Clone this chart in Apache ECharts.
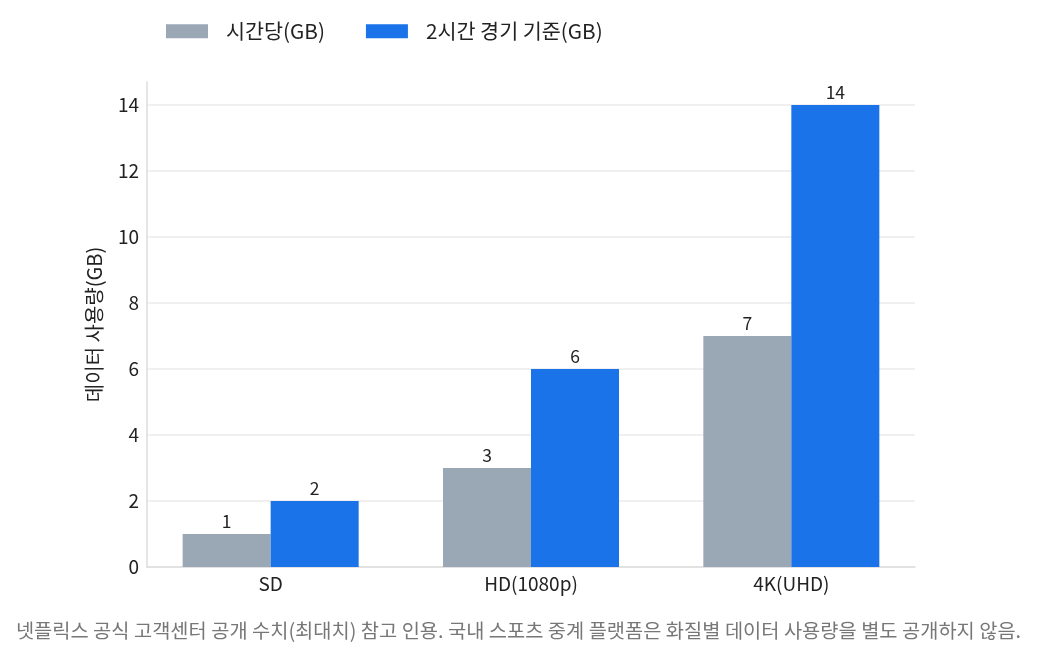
<!DOCTYPE html>
<html>
<head>
<meta charset="utf-8">
<script src="https://cdn.jsdelivr.net/npm/echarts@6/dist/echarts.min.js"></script>
<style>
  html, body { margin: 0; padding: 0; background: #fff; }
  #chart { width: 1037px; height: 661px; }
</style>
</head>
<body>
<div id="chart"></div>
<script>
// 화질별 데이터 사용량
var categories = ["SD", "HD(1080p)", "4K(UHD)"];
var perHour = [1, 3, 7];
var perMatch = [2, 6, 14];
var seriesNames = ["시간당(GB)", "2시간 경기 기준(GB)"];
var yTicks = [0, 2, 4, 6, 8, 10, 12, 14];
var note = "넷플릭스 공식 고객센터 공개 수치(최대치) 참고 인용. 국내 스포츠 중계 플랫폼은 화질별 데이터 사용량을 별도 공개하지 않음.";

var FONT = '"Noto Sans CJK KR", "Noto Sans", sans-serif';

function pairs(arr) {
	return arr.map(function (v, i) { return [i, v]; });
}

function barLabel() {
	return { show: true, position: "top", fontSize: 17.5, color: "#222", distance: 4, fontFamily: FONT,
		formatter: function (p) { return p.value[1]; } };
}

var myChart = echarts.init(document.getElementById("chart"));

var option = {
	animation: false,
	textStyle: { fontFamily: FONT },
	legend: {
		top: 21,
		left: 166,
		padding: 0,
		itemWidth: 42,
		itemHeight: 14,
		itemGap: 41,
		icon: "rect",
		textStyle: { fontSize: 20.7, color: "#222", fontFamily: FONT, padding: [0, 0, 0, 13] },
		data: seriesNames
	},
	grid: { left: 147, right: 122, top: 82, bottom: 94, containLabel: false },
	xAxis: {
		type: "value",
		min: -0.475,
		max: 2.475,
		axisLine: { show: true, onZero: false, lineStyle: { color: "#dddddd", width: 1.5 } },
		axisTick: { show: false, customValues: [0, 1, 2] },
		splitLine: { show: false },
		axisLabel: {
			customValues: [0, 1, 2],
			formatter: function (v) { return categories[Math.round(v)]; },
			fontSize: 19,
			color: "#222",
			margin: 7,
			fontFamily: FONT
		}
	},
	yAxis: {
		type: "value",
		min: 0,
		max: 14.7,
		interval: 2,
		name: "데이터 사용량(GB)",
		nameLocation: "middle",
		nameGap: 43,
		nameTextStyle: { fontSize: 20, color: "#222", fontFamily: FONT },
		axisLine: { show: true, onZero: false, lineStyle: { color: "#dddddd", width: 1.5 } },
		axisTick: { show: false, customValues: yTicks },
		splitLine: { show: true, lineStyle: { color: "#ebebeb", width: 1.5 } },
		axisLabel: {
			customValues: yTicks,
			fontSize: 19,
			color: "#222",
			margin: 8,
			fontFamily: FONT
		}
	},
	series: [
		{
			name: seriesNames[0],
			type: "bar",
			data: pairs(perHour),
			barWidth: 88,
			barGap: "0%",
			itemStyle: { color: "#9aa7b4" },
			label: barLabel()
		},
		{
			name: seriesNames[1],
			type: "bar",
			data: pairs(perMatch),
			barWidth: 88,
			barGap: "0%",
			itemStyle: { color: "#1a73e8" },
			label: barLabel()
		}
	],
	graphic: [
		{
			type: "text",
			left: "center",
			top: 621,
			style: { text: note, fontSize: 19.8, fill: "#777", fontFamily: FONT }
		}
	]
};

myChart.setOption(option);
</script>
</body>
</html>
